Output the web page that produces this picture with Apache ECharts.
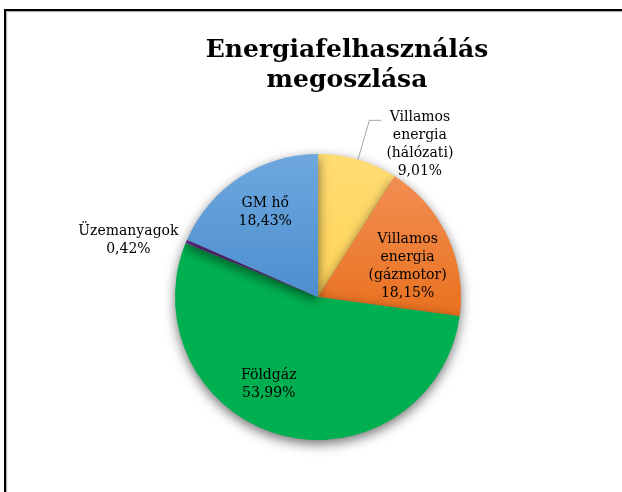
<!DOCTYPE html>
<html>
<head>
<meta charset="utf-8">
<script src="https://cdn.jsdelivr.net/npm/echarts@6/dist/echarts.min.js"></script>
<style>html,body{margin:0;padding:0;background:#fff;}#c{width:622px;height:492px;}</style>
</head>
<body>
<div id="c"></div>
<script>
const titleText = 'Energiafelhasználás\nmegoszlása';
const categories = ['Villamos energia (hálózati)', 'Villamos energia (gázmotor)', 'Földgáz', 'Üzemanyagok', 'GM hő'];
const labelNames = ['Villamos\nenergia\n(hálózati)', 'Villamos\nenergia\n(gázmotor)', 'Földgáz', 'Üzemanyagok', 'GM hő'];
const values = [9.01, 18.15, 53.99, 0.42, 18.43];

const FONT = 'DejaVu Serif';
const grad = (a, b) => new echarts.graphic.LinearGradient(0, 0, 0, 1, [{offset: 0, color: a}, {offset: 1, color: b}]);
const colors = [
  grad('#FFDC72', '#FFD458'),
  grad('#F28E52', '#E9711F'),
  '#00B050',
  '#7030A0',
  grad('#6EA8DE', '#4C8ECF')
];
const insideShift = {1: [22, 1], 2: [-30, 15], 4: [-12, -22]};

function fmt(i) {
  const lines = labelNames[i].split('\n').concat([values[i].toFixed(2).replace('.', ',') + '%']);
  return lines.map(l => '{c|' + l + '}').join('\n');
}

const data = categories.map((name, i) => {
  const item = {name: name, value: values[i], itemStyle: {color: colors[i]}};
  if (i === 0) {
    item.label = {position: 'outside', padding: [48, 0, 0, 0], distanceToLabelLine: 5};
    item.labelLine = {show: true, length: 41, length2: 12, lineStyle: {color: '#A6A6A6', width: 1}};
  } else if (i === 3) {
    item.label = {position: 'outside', distanceToLabelLine: 5};
    item.labelLine = {show: false, length: 3, length2: 0};
  } else {
    item.label = {position: 'inside'};
  }
  return item;
});

const chart = echarts.init(document.getElementById('c'), null, {renderer: 'canvas'});
chart.setOption({
  backgroundColor: '#fff',
  animation: false,
  title: {
    text: titleText,
    left: 342,
    top: 30,
    textAlign: 'center',
    textStyle: {fontFamily: FONT, fontWeight: 'bold', fontSize: 25, lineHeight: 30, color: '#000'}
  },
  graphic: [{
    type: 'rect',
    shape: {x: 5, y: 10, width: 700, height: 600},
    style: {fill: 'none', stroke: '#000', lineWidth: 2, shadowColor: 'rgba(0,0,0,0.35)', shadowBlur: 1, shadowOffsetX: 1, shadowOffsetY: 1},
    silent: true
  }],
  series: [{
    type: 'pie',
    center: [318, 297],
    radius: 143,
    startAngle: 90,
    clockwise: true,
    avoidLabelOverlap: false,
    itemStyle: {shadowColor: 'rgba(0,0,0,0.55)', shadowBlur: 12, shadowOffsetY: 4},
    emphasis: {disabled: true},
    label: {
      formatter: p => fmt(p.dataIndex),
      color: '#000',
      rich: {c: {align: 'center', fontFamily: FONT, fontSize: 14, lineHeight: 18, color: '#000'}}
    },
    labelLayout: function (params) {
      const s = insideShift[params.dataIndex];
      return s ? {dx: s[0], dy: s[1]} : {};
    },
    data: data
  }]
});
</script>
</body>
</html>
